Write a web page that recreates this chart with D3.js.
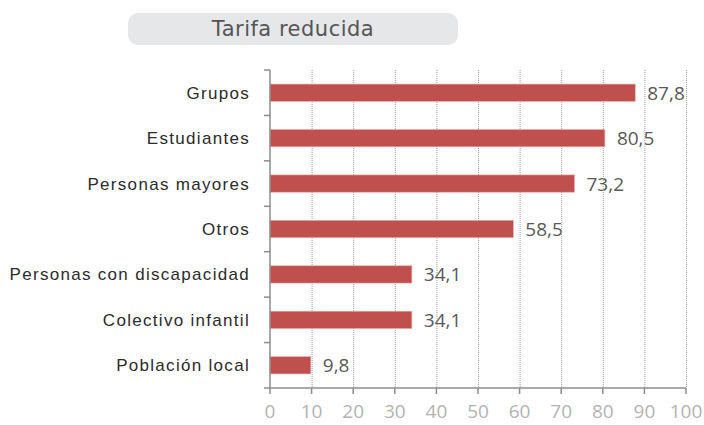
<!DOCTYPE html>
<html>
<head>
<meta charset="utf-8">
<script src="https://cdn.jsdelivr.net/npm/d3@7/dist/d3.min.js"></script>
<style>
  html, body { margin: 0; padding: 0; background: #fff; }
  svg { display: block; }
  .cat { font-family: "Liberation Sans", Arial, sans-serif; font-size: 17px; fill: #2b2b2b; letter-spacing: 1.3px; }
  .val { font-family: "Open Sans", "DejaVu Sans", sans-serif; font-size: 19px; fill: #595959; }
  .tick-lbl { font-family: "Open Sans", "DejaVu Sans", sans-serif; font-size: 19px; fill: #b3b3b3; }
  .title { font-family: "DejaVu Sans", Verdana, sans-serif; font-size: 21px; fill: #555; letter-spacing: 0.5px; }
</style>
</head>
<body>
<div id="chart"></div>
<script>
// --- Tarifa reducida :: horizontal bars -------------------------------------

const CATEGORIES = [
  'Grupos', 'Estudiantes', 'Personas mayores', 'Otros',
  'Personas con discapacidad', 'Colectivo infantil', 'Población local'
];
const VALUES = [87.8, 80.5, 73.2, 58.5, 34.1, 34.1, 9.8];
const X_TICKS = [0, 10, 20, 30, 40, 50, 60, 70, 80, 90, 100];
const TITLE = 'Tarifa reducida';

const W = 704, H = 425;
const M = { left: 270, right: 18, top: 70, bottom: 37 };

const svg = d3.select('#chart').append('svg')
  .attr('width', W).attr('height', H);

// title pill
svg.append('rect')
  .attr('x', 128).attr('y', 13).attr('width', 330).attr('height', 32)
  .attr('rx', 10).attr('fill', '#e6e7e9');
svg.append('text')
  .attr('class', 'title')
  .attr('x', 293).attr('y', 36)
  .attr('text-anchor', 'middle')
  .text(TITLE);

const x = d3.scaleLinear().domain([0, 100]).range([M.left, W - M.right]);
const y = d3.scaleBand().domain(CATEGORIES)
  .range([M.top, H - M.bottom]).paddingInner(0.62).paddingOuter(0.31);
const yb = d3.scaleBand().domain(CATEGORIES).range([M.top, H - M.bottom]);

const f = d3.format('.1f');
const fmt = v => f(v).replace('.', ',');

// value labels (gridlines run over them, like the original)
svg.append('g').selectAll('text')
  .data(VALUES)
  .join('text')
    .attr('class', 'val')
    .attr('x', d => x(d) + 12)
    .attr('y', (_, i) => y(CATEGORIES[i]) + y.bandwidth() / 2 + 7)
    .text(fmt);

// dotted gridlines
svg.append('g').selectAll('line')
  .data(X_TICKS.slice(1))
  .join('line')
    .attr('x1', d => x(d) + 0.5).attr('x2', d => x(d) + 0.5)
    .attr('y1', M.top).attr('y2', H - M.bottom)
    .attr('stroke', '#9a9a9a').attr('stroke-width', 1)
    .attr('stroke-dasharray', '1,1');

// bars
svg.append('g').selectAll('rect')
  .data(VALUES)
  .join('rect')
    .attr('x', x(0))
    .attr('y', (_, i) => y(CATEGORIES[i]))
    .attr('width', d => x(d) - x(0))
    .attr('height', y.bandwidth())
    .attr('fill', '#c0504d')
    .attr('stroke', '#e8a9a7').attr('stroke-width', 0.6);

// y axis: line + band-boundary ticks to the left
const yAxis = svg.append('g');
yAxis.append('line')
  .attr('x1', M.left).attr('x2', M.left)
  .attr('y1', M.top).attr('y2', H - M.bottom)
  .attr('stroke', '#8c8c8c').attr('stroke-width', 1.5);
yAxis.selectAll('line.tk')
  .data(CATEGORIES)
  .join('line')
    .attr('class', 'tk')
    .attr('x1', M.left - 6).attr('x2', M.left)
    .attr('y1', d => yb(d)).attr('y2', d => yb(d))
    .attr('stroke', '#8c8c8c').attr('stroke-width', 1.5);
yAxis.selectAll('text')
  .data(CATEGORIES)
  .join('text')
    .attr('class', 'cat')
    .attr('x', 250)
    .attr('y', d => y(d) + y.bandwidth() / 2 + 6)
    .attr('text-anchor', 'end')
    .text(d => d);

// x axis
const xAxis = svg.append('g');
xAxis.append('line')
  .attr('x1', M.left - 6).attr('x2', x(100))
  .attr('y1', H - M.bottom).attr('y2', H - M.bottom)
  .attr('stroke', '#8c8c8c').attr('stroke-width', 1.5);
xAxis.selectAll('line.tk')
  .data(X_TICKS)
  .join('line')
    .attr('class', 'tk')
    .attr('x1', d => x(d)).attr('x2', d => x(d))
    .attr('y1', H - M.bottom).attr('y2', H - M.bottom + 6)
    .attr('stroke', '#8c8c8c').attr('stroke-width', 1.5);
xAxis.selectAll('text')
  .data(X_TICKS)
  .join('text')
    .attr('class', 'tick-lbl')
    .attr('x', d => x(d))
    .attr('y', H - 7)
    .attr('text-anchor', 'middle')
    .text(d => d);
</script>
</body>
</html>
